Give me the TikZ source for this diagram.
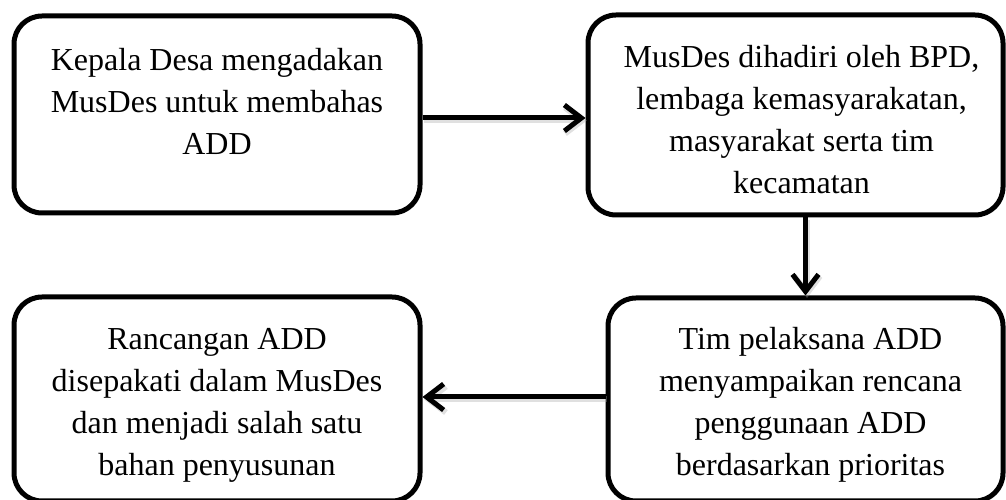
\documentclass[tikz,border=0pt]{standalone}
\usepackage{fontspec}
\setmainfont{Liberation Serif}
\usetikzlibrary{arrows.meta,calc}
\begin{document}
\begin{tikzpicture}[x=1pt,y=1pt,
  box/.style={draw=black, line width=5pt, rounded corners=28pt, inner sep=0pt},
  txt/.style={font=\fontsize{32}{42}\selectfont, align=center, inner sep=0pt},
  arr/.style={line width=5pt, -{Straight Barb[length=17pt,width=26pt]},
    preaction={draw=black!35, opacity=0.35, line width=6pt,
      transform canvas={shift={(1.5pt,-2.5pt)}}}}]
\useasboundingbox (0,0) rectangle (1006,500);
\node[box, minimum width=406pt, minimum height=197pt] (A) at (217,385.5) {};
\node[box, minimum width=415pt, minimum height=200pt] (B) at (795.5,385) {};
\node[box, minimum width=395pt, minimum height=203pt] (C) at (805.5,100.5) {};
\node[box, minimum width=406pt, minimum height=204pt] (D) at (217,101) {};
\node[txt] (tA) at ($(A.center)+(0,10)$) {\strut Kepala Desa mengadakan\\\strut MusDes untuk membahas\\\strut ADD};
\node[txt] (tB) at ($(B.center)+(6,-7.6)$) {\strut MusDes dihadiri oleh BPD,\\\strut lembaga kemasyarakatan,\\\strut masyarakat serta tim\\\strut kecamatan};
\node[txt] (tC) at ($(C.center)+(5,-5)$) {\strut Tim pelaksana ADD\\\strut menyampaikan rencana\\\strut penggunaan ADD\\\strut berdasarkan prioritas};
\node[txt] (tD) at ($(D.center)+(0,-5.6)$) {\strut Rancangan ADD\\\strut disepakati dalam MusDes\\\strut dan menjadi salah satu\\\strut bahan penyusunan};
\coordinate (a1) at ([yshift=-3.5pt]A.east);
\coordinate (c1) at ([yshift=2.5pt]C.west);
\draw[arr] (a1) -- (a1 -| B.west);
\draw[arr] (C.north |- B.south) -- (C.north);
\draw[arr] (c1) -- (c1 -| D.east);
\end{tikzpicture}
\end{document}
